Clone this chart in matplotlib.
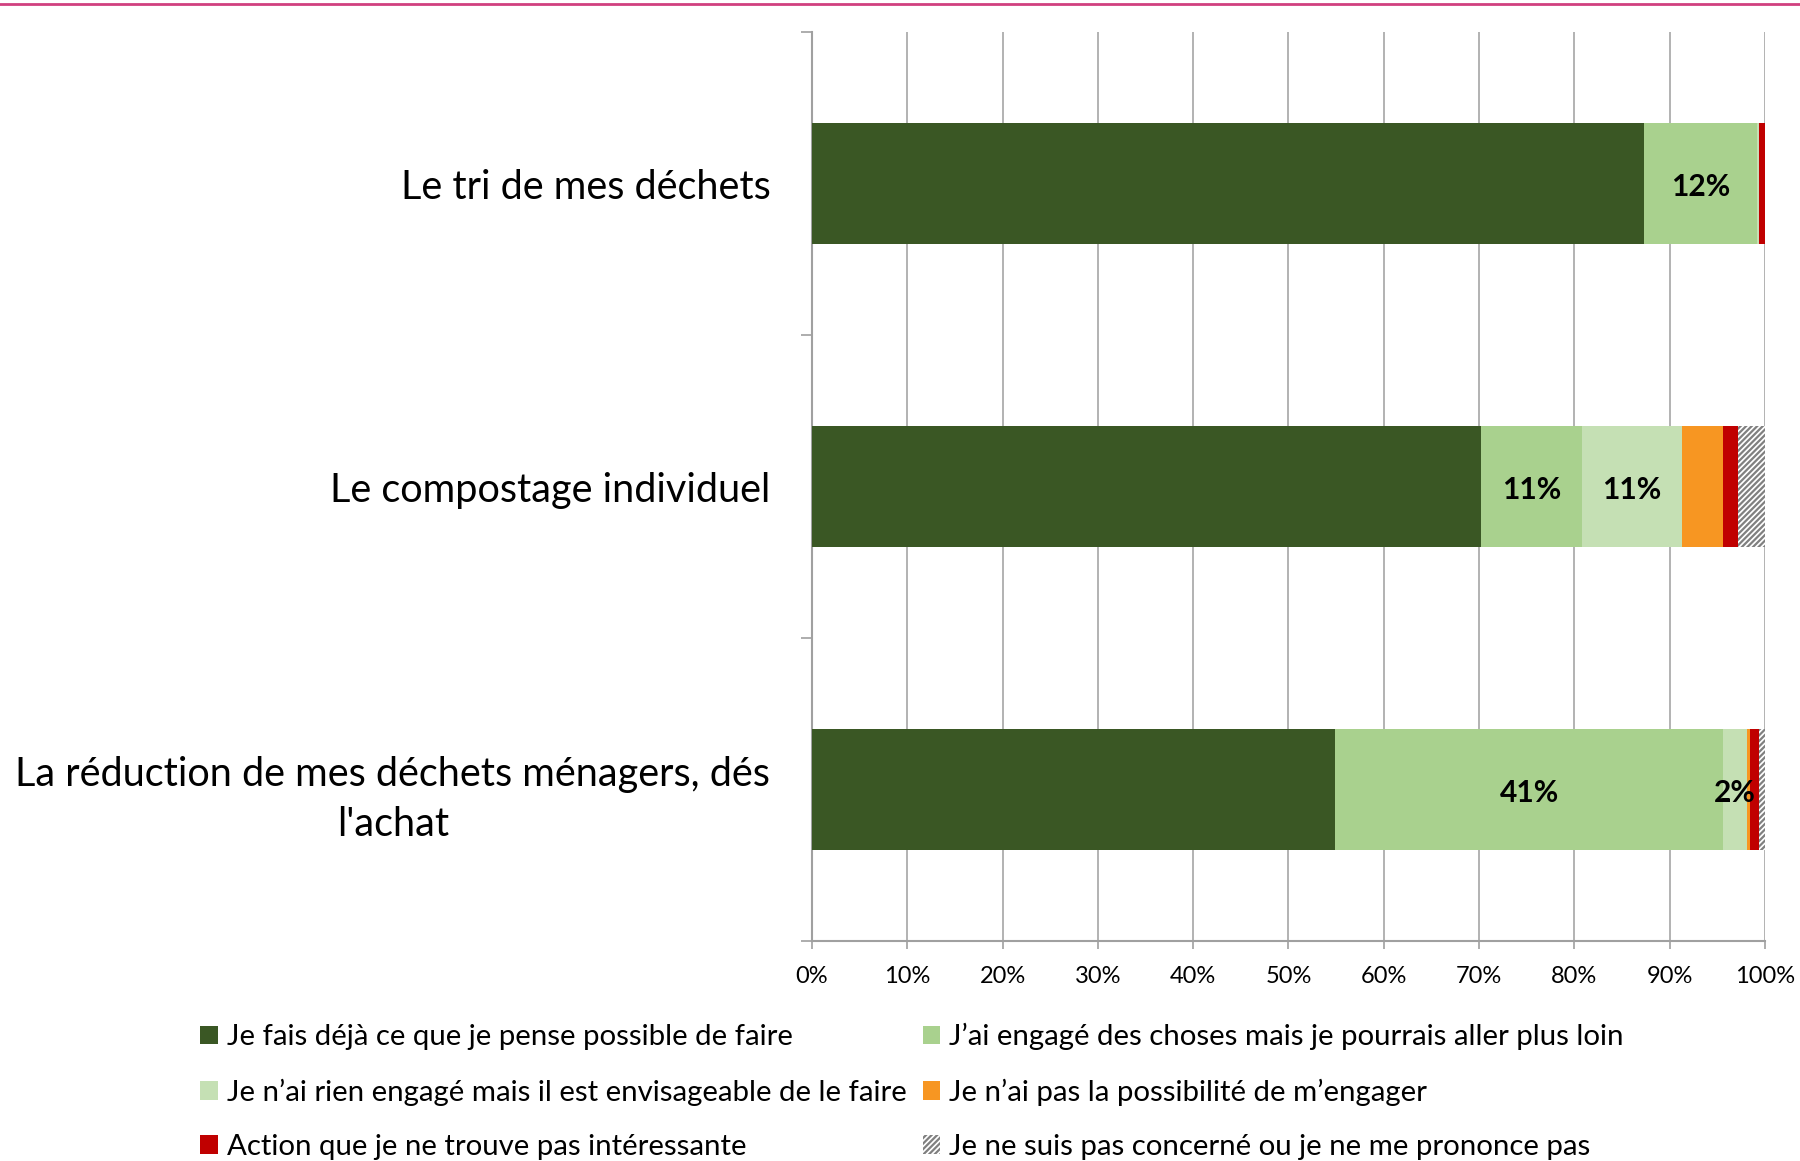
import matplotlib
matplotlib.use("Agg")
import matplotlib.pyplot as plt
from matplotlib.lines import Line2D
from matplotlib.patches import Patch

plt.rcParams["font.family"] = ["Lato", "DejaVu Sans"]
plt.rcParams["hatch.color"] = "#808080"
plt.rcParams["hatch.linewidth"] = 1.6

categories = ["Le tri de mes déchets",
              "Le compostage individuel",
              "La réduction de mes déchets ménagers, dés\nl'achat"]
series_names = ["Je fais déjà ce que je pense possible de faire",
                "J’ai engagé des choses mais je pourrais aller plus loin",
                "Je n’ai rien engagé mais il est envisageable de le faire",
                "Je n’ai pas la possibilité de m’engager",
                "Action que je ne trouve pas intéressante",
                "Je ne suis pas concerné ou je ne me prononce pas"]
# shares in %, one list per series, in category order
deja_fait = [87.3, 70.2, 54.9]
engage = [11.9, 10.6, 40.7]
envisageable = [0.2, 10.5, 2.5]
pas_possible = [0.0, 4.3, 0.3]
pas_interessant = [0.6, 1.6, 1.0]
non_concerne = [0.0, 2.8, 0.6]
# which segments carry a value label
shown_labels = {(0, 1): "12%", (1, 1): "11%", (1, 2): "11%",
                (2, 1): "41%", (2, 2): "2%"}

colors = ["#3A5724", "#A9D18E", "#C5E0B4", "#F79622", "#C00000", "white"]
series = [deja_fait, engage, envisageable, pas_possible, pas_interessant, non_concerne]

fig = plt.figure(figsize=(18, 11.61), dpi=100)
ax = fig.add_axes([0.4511, 0.1895, 0.5294, 0.7829])

ypos = list(range(len(categories)))
left = [0.0] * len(categories)
handles = []
for i, (vals, col) in enumerate(zip(series, colors)):
    hatch = "//////" if i == 5 else None
    ax.barh(ypos, vals, left=left, height=0.4, color=col, hatch=hatch,
            edgecolor="#808080" if hatch else col, linewidth=0, zorder=3)
    for j, v in enumerate(vals):
        if (j, i) in shown_labels:
            ax.text(left[j] + v / 2, j + 0.01, shown_labels[(j, i)], ha="center", va="center",
                    fontsize=21.5, fontweight="bold", color="black", zorder=4)
    left = [l + v for l, v in zip(left, vals)]
    handles.append(Patch(facecolor=col, hatch=hatch, edgecolor="#808080" if hatch else col,
                         linewidth=0))

ax.set_xlim(0, 100)
ax.set_ylim(2.5, -0.5)
ax.set_xticks(range(0, 101, 10))
ax.set_xticklabels([f"{t}%" for t in range(0, 101, 10)], fontsize=17)
ax.set_yticks(ypos)
ax.set_yticklabels(categories, fontsize=28.5, multialignment="center", linespacing=1.45)
ax.tick_params(axis="y", length=0, pad=30)
ax.set_yticks([-0.5, 0.5, 1.5, 2.5], minor=True)
ax.tick_params(axis="y", which="minor", length=8, color="#A0A0A0", width=1.2)
ax.tick_params(axis="x", length=6, color="#A0A0A0", width=1.2, pad=12)
ax.grid(axis="x", color="#A6A6A6", linewidth=1.2, zorder=0)
for s in ["top", "right"]:
    ax.spines[s].set_visible(False)
for s in ["left", "bottom"]:
    ax.spines[s].set_color("#A0A0A0")
    ax.spines[s].set_linewidth(1.5)

# row-major reading order -> column-major legend fill
legend_order = [0, 2, 4, 1, 3, 5]
fig.legend([handles[k] for k in legend_order], [series_names[k] for k in legend_order],
           ncol=2, loc="upper left", bbox_to_anchor=(0.1047, 0.129), frameon=False,
           fontsize=21.2, handlelength=0.6, handleheight=0.6, handletextpad=0.3,
           columnspacing=0.55, labelspacing=0.96, borderaxespad=0)

fig.add_artist(Line2D([0, 1], [0.9965, 0.9965], color="#D0407F", linewidth=2,
                      transform=fig.transFigure))

fig.savefig("out.png", dpi=100)
